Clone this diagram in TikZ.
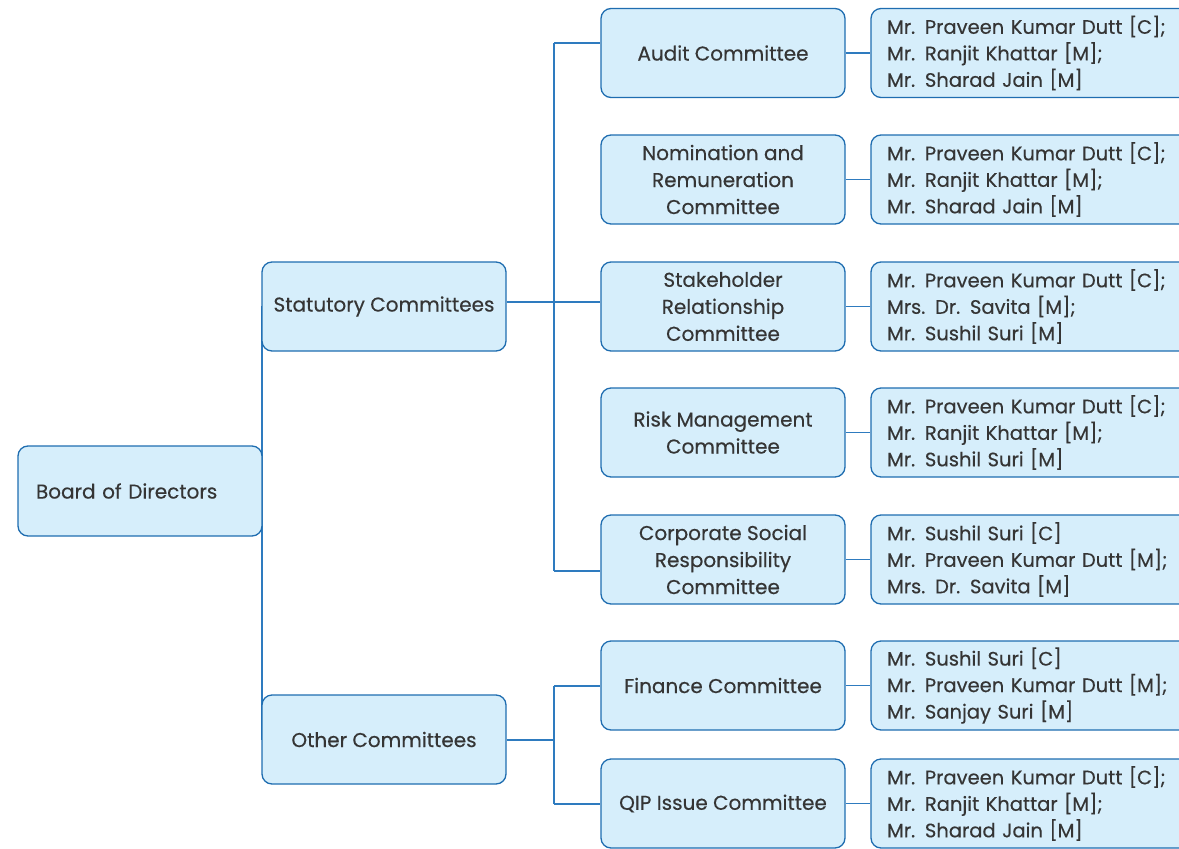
\documentclass[tikz,border=0pt]{standalone}
\usepackage{fontspec}
\setmainfont{Poppins}[BoldFont=Poppins, BoldFeatures={FakeBold=0.35}]
\definecolor{boxfill}{HTML}{D6EEFB}
\definecolor{boxdraw}{HTML}{1F6DB0}
\definecolor{linec}{HTML}{2E7BBF}
\definecolor{txt}{HTML}{353535}
\tikzset{
  orgbox/.style={draw=boxdraw, fill=boxfill, line width=1.3pt, rounded corners=10pt,
    minimum width=244pt, minimum height=89pt, inner sep=2pt, text=txt,
    font=\fontsize{20}{27}\selectfont\bfseries, align=center},
  membox/.style={draw=boxdraw, fill=boxfill, line width=1.3pt, rounded corners=10pt,
    minimum width=319pt, minimum height=89pt, inner xsep=16pt, inner ysep=2pt, text=txt,
    font=\fontsize{19.5}{26.5}\selectfont\bfseries, align=left, text width=287pt},
  conn/.style={draw=linec, line width=1.3pt}
}
\begin{document}
\begin{tikzpicture}[x=1pt,y=-1pt]
\useasboundingbox (0,0) rectangle (1179,849);
\clip (0,0) rectangle (1179,849);
% trunk
\coordinate (t1) at (262,306);
\coordinate (t2) at (262,740);
\draw[conn] (t1) -- (t2);
% level 1 & 2
\node[orgbox, minimum height=90pt, align=left, text width=208pt, inner xsep=18pt] (bod) at (140,491) {Board of Directors};
\node[orgbox] (stat) at (384,306.5) {Statutory Committees};
\node[orgbox] (oth) at (384,739.5) {Other Committees};
% committees
\node[orgbox] (aud) at (723,53) {Audit Committee};
\node[orgbox] (nom) at (723,179.5) {Nomination and\\Remuneration\\Committee};
\node[orgbox] (stk) at (723,306.5) {Stakeholder\\Relationship\\Committee};
\node[orgbox] (rsk) at (723,432.5) {Risk Management\\Committee};
\node[orgbox] (csr) at (723,559.5) {Corporate Social\\Responsibility\\Committee};
\node[orgbox] (fin) at (723,685.5) {Finance Committee};
\node[orgbox] (qip) at (723,803.5) {QIP Issue Committee};
% members
\node[membox] (maud) at (1030.5,53) {Mr. Praveen Kumar Dutt [C];\\Mr. Ranjit Khattar [M];\\Mr. Sharad Jain [M]};
\node[membox] (mnom) at (1030.5,179.5) {Mr. Praveen Kumar Dutt [C];\\Mr. Ranjit Khattar [M];\\Mr. Sharad Jain [M]};
\node[membox] (mstk) at (1030.5,306.5) {Mr. Praveen Kumar Dutt [C];\\Mrs. Dr. Savita [M];\\Mr. Sushil Suri [M]};
\node[membox] (mrsk) at (1030.5,432.5) {Mr. Praveen Kumar Dutt [C];\\Mr. Ranjit Khattar [M];\\Mr. Sushil Suri [M]};
\node[membox] (mcsr) at (1030.5,559.5) {Mr. Sushil Suri [C]\\Mr. Praveen Kumar Dutt [M];\\Mrs. Dr. Savita [M]};
\node[membox] (mfin) at (1030.5,685.5) {Mr. Sushil Suri [C]\\Mr. Praveen Kumar Dutt [M];\\Mr. Sanjay Suri [M]};
\node[membox] (mqip) at (1030.5,803.5) {Mr. Praveen Kumar Dutt [C];\\Mr. Ranjit Khattar [M];\\Mr. Sharad Jain [M]};
% statutory branch
\coordinate (sv1) at (554,43);
\coordinate (sv2) at (554,302);
\coordinate (sv3) at (554,571);
\draw[conn] (sv1) -- (sv3);
\draw[conn] (sv1) -- (aud.west |- sv1);
\draw[conn] (stat.east |- sv2) -- (stk.west |- sv2);
\draw[conn] (sv3) -- (csr.west |- sv3);
% other branch
\coordinate (ov1) at (554,686);
\coordinate (ov2) at (554,740);
\coordinate (ov3) at (554,804);
\draw[conn] (ov1) -- (ov3);
\draw[conn] (oth.east |- ov2) -- (ov2);
\draw[conn] (ov1) -- (fin.west |- ov1);
\draw[conn] (ov3) -- (qip.west |- ov3);
% committee to members
\foreach \a/\b in {aud/maud,nom/mnom,stk/mstk,rsk/mrsk,csr/mcsr,fin/mfin,qip/mqip}
  \draw[conn] (\a.east) -- (\b.west);
\end{tikzpicture}
\end{document}
